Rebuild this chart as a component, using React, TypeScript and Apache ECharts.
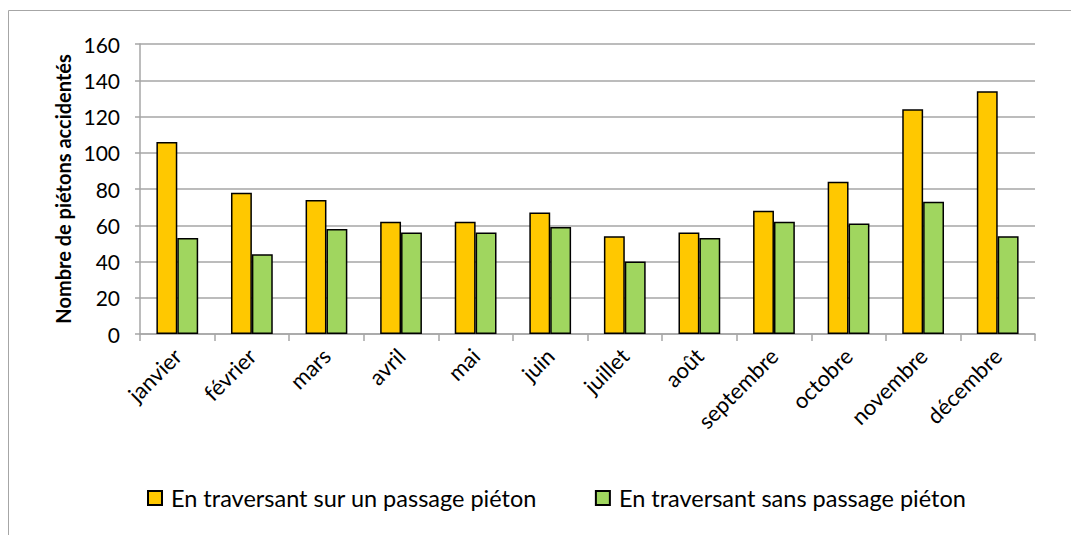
import React, { useEffect, useRef } from "react";
import * as echarts from "echarts";

const months = ["janvier", "février", "mars", "avril", "mai", "juin", "juillet", "août", "septembre", "octobre", "novembre", "décembre"];
const avecPassage = [106, 78, 74, 62, 62, 67, 54, 56, 68, 84, 124, 134];
const sansPassage = [53, 44, 58, 56, 56, 59, 40, 53, 62, 61, 73, 54];
const seriesNames = ["En traversant sur un passage piéton", "En traversant sans passage piéton"];
const yTitle = "Nombre de piétons accidentés";

export default function App() {
  const ref = useRef<HTMLDivElement>(null);
  useEffect(() => {
    const chart = echarts.init(ref.current!, null, { renderer: "svg" });
    const font = "Lato";
    chart.setOption({
      animation: false,
      textStyle: { fontFamily: font },
      graphic: [
        {
          type: "rect",
          shape: { x: 8.5, y: 10.5, width: 1200, height: 700 },
          style: { fill: "none", stroke: "#a6a6a6", lineWidth: 1 },
          silent: true,
        },
      ],
      grid: { left: 140, right: 36, top: 44, bottom: 201, containLabel: false },
      legend: {
        left: 142,
        top: 481,
        itemWidth: 14,
        itemHeight: 14,
        itemGap: 58,
        icon: "rect",
        textStyle: { fontFamily: font, fontSize: 23.5, color: "#000", padding: [0, 0, 0, 4] },
        data: seriesNames,
      },
      xAxis: {
        type: "category",
        data: months,
        axisLine: { lineStyle: { color: "#a6a6a6", width: 1.5 } },
        axisTick: { show: true, alignWithLabel: false, length: 7, lineStyle: { color: "#a6a6a6", width: 1.5 } },
        axisLabel: { rotate: 45, fontSize: 22, color: "#000", fontFamily: font, margin: 18, interval: 0 },
      },
      yAxis: {
        type: "value",
        min: 0,
        max: 160,
        interval: 20,
        name: yTitle,
        nameLocation: "middle",
        nameGap: 64,
        nameTextStyle: { fontFamily: font, fontSize: 20, fontWeight: "bold", color: "#000" },
        axisLine: { show: true, lineStyle: { color: "#a6a6a6", width: 1.5 } },
        axisTick: { show: true, length: 5, lineStyle: { color: "#a6a6a6", width: 1.5 } },
        axisLabel: { fontSize: 21, color: "#000", fontFamily: font, margin: 20 },
        splitLine: { lineStyle: { color: "#a6a6a6", width: 1.5 } },
      },
      series: [
        {
          name: seriesNames[0],
          type: "bar",
          data: avecPassage,
          barGap: "0%",
          barCategoryGap: "44%",
          itemStyle: { color: "#FFC800", borderColor: "#000", borderWidth: 1.5 },
        },
        {
          name: seriesNames[1],
          type: "bar",
          data: sansPassage,
          barGap: "0%",
          barCategoryGap: "44%",
          itemStyle: { color: "#A0D65F", borderColor: "#000", borderWidth: 1.5 },
        },
      ],
    });
    return () => chart.dispose();
  }, []);
  return (
    <div
      ref={ref}
      style={{ position: "fixed", left: 0, top: 0, width: 1071, height: 535, background: "#fff" }}
    />
  );
}
